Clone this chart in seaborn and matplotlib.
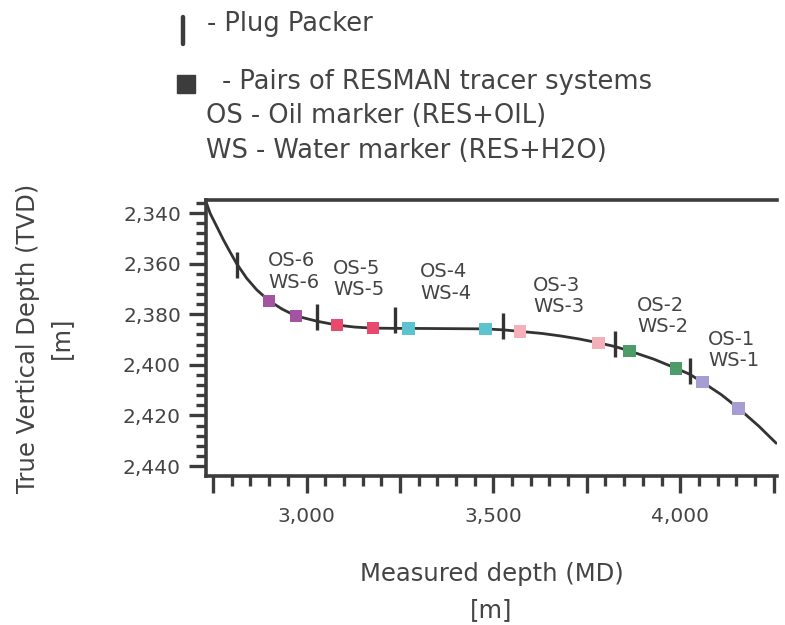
import matplotlib
matplotlib.use('Agg')
import matplotlib.pyplot as plt
import seaborn as sns
import pandas as pd
from matplotlib.ticker import MultipleLocator, FuncFormatter

# Well trajectory (measured depth vs true vertical depth)
md_path = [2731, 2742, 2760, 2778, 2795, 2813, 2840, 2867, 2900, 2935, 2972, 3029,
           3082, 3130, 3178, 3236, 3273, 3479, 3527, 3572, 3630, 3680, 3730, 3781,
           3826, 3864, 3930, 3989, 4025, 4060, 4110, 4156, 4210, 4257]
tvd_path = [2335.5, 2340.1, 2345.4, 2350.7, 2355.3, 2360.0, 2365.8, 2370.4, 2374.7,
            2378.0, 2380.7, 2382.8, 2384.3, 2385.1, 2385.5, 2385.6, 2385.6, 2385.8,
            2386.2, 2386.8, 2387.6, 2388.6, 2389.8, 2391.3, 2392.8, 2394.5, 2397.8,
            2401.4, 2403.7, 2406.9, 2411.8, 2417.2, 2424.2, 2431.0]

# Tracer systems (pairs of squares)
tracer_md = [2900, 2972, 3082, 3178, 3273, 3479, 3572, 3781, 3864, 3989, 4060, 4156]
tracer_tvd = [2374.7, 2380.7, 2384.3, 2385.5, 2385.6, 2385.8, 2386.8, 2391.3,
              2394.5, 2401.4, 2406.9, 2417.2]
tracer_zone = ['6', '6', '5', '5', '4', '4', '3', '3', '2', '2', '1', '1']
zone_colors = {'6': '#a453a0', '5': '#e8496d', '4': '#5cc3cf',
               '3': '#f4b0b8', '2': '#4b9c68', '1': '#a79dd3'}

# Plug packers
plug_md = [2813, 3029, 3236, 3527, 3826, 4025]
plug_tvd = [2360.7, 2381.3, 2382.2, 2384.5, 2391.8, 2402.4]

# Zone labels
label_text = ['OS-6\nWS-6', 'OS-5\nWS-5', 'OS-4\nWS-4', 'OS-3\nWS-3', 'OS-2\nWS-2', 'OS-1\nWS-1']
label_md = [2897, 3071, 3304, 3606, 3885, 4075]
label_tvd = [2363.1, 2366.1, 2367.5, 2372.8, 2380.7, 2394.0]

sns.set_style('white')
plt.rcParams['font.family'] = ['DejaVu Sans']
dark = '#3c3c3c'
txt = '#444444'

fig = plt.figure(figsize=(7.85, 6.25), dpi=100)
ax = fig.add_axes([0.2624, 0.2384, 0.7274, 0.4416])

path_df = pd.DataFrame({'md': md_path, 'tvd': tvd_path})
sns.lineplot(data=path_df, x='md', y='tvd', sort=False, color='#333333', linewidth=2.0, ax=ax)

tr_df = pd.DataFrame({'md': tracer_md, 'tvd': tracer_tvd, 'zone': tracer_zone})
sns.scatterplot(data=tr_df, x='md', y='tvd', hue='zone', palette=zone_colors, marker='s',
                s=80, linewidth=0, legend=False, ax=ax, zorder=3)

plug_df = pd.DataFrame({'md': plug_md, 'tvd': plug_tvd})
sns.scatterplot(data=plug_df, x='md', y='tvd', marker='|', s=370, linewidth=2.4,
                color='#333333', legend=False, ax=ax, zorder=4)

for t, x, y in zip(label_text, label_md, label_tvd):
    ax.text(x, y, t, fontsize=14, color=txt, ha='left', va='center', linespacing=1.15)

ax.set_xlim(2731, 4259)
ax.set_ylim(2443.95, 2334.86)

ax.xaxis.set_major_locator(MultipleLocator(250))
ax.xaxis.set_minor_locator(MultipleLocator(50))
ax.yaxis.set_major_locator(MultipleLocator(20))
ax.yaxis.set_minor_locator(MultipleLocator(4))
ax.xaxis.set_major_formatter(FuncFormatter(lambda v, p: f'{int(v):,}' if v % 500 == 0 else ''))
ax.yaxis.set_major_formatter(FuncFormatter(lambda v, p: f'{int(v):,}'))

ax.tick_params(axis='both', which='major', length=12, width=2.4, color=dark,
               labelsize=14.5, labelcolor=txt, pad=6)
ax.tick_params(axis='x', which='major', pad=10)
ax.tick_params(axis='both', which='minor', length=7.5, width=2.4, color=dark)
ax.tick_params(axis='x', which='both', bottom=True, direction='out')
ax.tick_params(axis='y', which='both', left=True, direction='out')

for side in ['left', 'bottom', 'top']:
    ax.spines[side].set_color(dark)
    ax.spines[side].set_linewidth(2.6)
ax.spines['right'].set_visible(False)

ax.set_xlabel('Measured depth (MD)\n[m]', fontsize=17.5, color=txt, labelpad=26, linespacing=1.65)
ax.set_ylabel('True Vertical Depth (TVD)\n[m]', fontsize=17.5, color=txt, labelpad=36, linespacing=1.45)

# Legend text at top
fig.lines.append(plt.Line2D([183 / 785, 183 / 785], [1 - 17 / 625, 1 - 44 / 625],
                            transform=fig.transFigure, color=dark, linewidth=3.2))
fig.text(207 / 785, 1 - 24 / 625, '- Plug Packer', fontsize=18.5, color=txt, va='center', ha='left')
fig.patches.append(plt.Rectangle((177 / 785, 1 - 93 / 625), 18 / 785, 18 / 625,
                                 transform=fig.transFigure, color=dark))
fig.text(222 / 785, 1 - 82 / 625, '- Pairs of RESMAN tracer systems', fontsize=18.5, color=txt,
         va='center', ha='left')
fig.text(206 / 785, 1 - 116 / 625, 'OS - Oil marker (RES+OIL)', fontsize=18.5, color=txt,
         va='center', ha='left')
fig.text(206 / 785, 1 - 151 / 625, 'WS - Water marker (RES+H2O)', fontsize=18.5, color=txt,
         va='center', ha='left')

fig.savefig('out.png', dpi=100)
